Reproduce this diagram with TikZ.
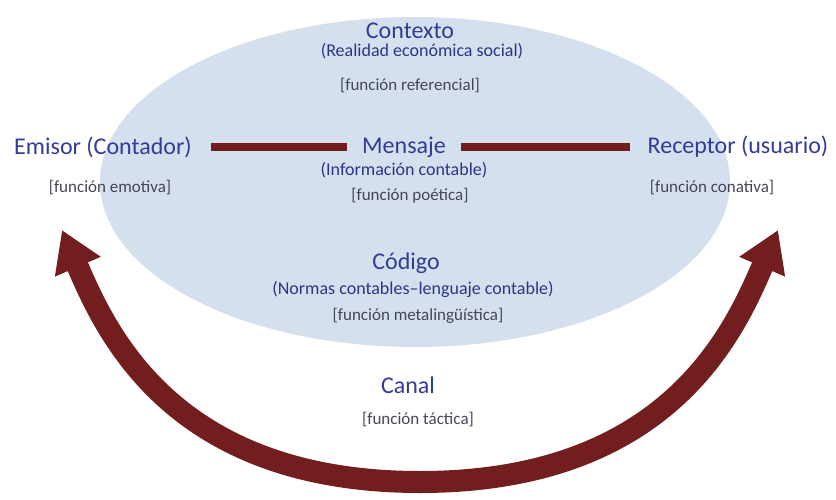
\documentclass[tikz,border=0pt]{standalone}
\usepackage{fontspec}
\setmainfont{Carlito}
\usetikzlibrary{arrows.meta}

\definecolor{ellfill}{RGB}{213,224,238}
\definecolor{titleblue}{RGB}{50,60,150}
\definecolor{subblue}{RGB}{45,52,135}
\definecolor{fungray}{RGB}{70,70,85}
\definecolor{arcred}{RGB}{115,30,30}

\begin{document}
\begin{tikzpicture}[x=1pt, y=-1pt,
    title/.style={text=titleblue, inner sep=0pt, font=\fontsize{24}{26}\selectfont},
    sub/.style={text=subblue, inner sep=0pt, font=\fontsize{18}{20}\selectfont},
    func/.style={text=fungray, inner sep=0pt, font=\fontsize{17}{19}\selectfont},
    bar/.style={arcred, line width=8.5pt},
    arc/.style={arcred, line width=22pt, {Triangle[length=40pt,width=47pt]}-{Triangle[length=40pt,width=47pt]}}]
    \useasboundingbox (0,0) rectangle (836,499);
    % Contexto
    \fill[ellfill] (415,182) ellipse [x radius=315pt, y radius=165pt];
    \node[title] (contexto) at (410,31) {Contexto};
    \node[sub] (realidad) at (422,51) {(Realidad económica social)};
    \node[func] (referencial) at (410,86) {[función referencial]};
    % Emisor y receptor
    \node[title] (emisor) at (103,147) {Emisor (Contador)};
    \node[func] (emotiva) at (110,188) {[función emotiva]};
    \node[title] (receptor) at (738,147) {Receptor (usuario)};
    \node[func] (conativa) at (712,188) {[función conativa]};
    % Mensaje
    \node[title] (mensaje) at (404,147) {Mensaje};
    \node[sub] (informacion) at (404,170) {(Información contable)};
    \node[func] (poetica) at (410,196) {[función poética]};
    \draw[bar] (emisor.east) ++(19,0) -- ([xshift=-15pt]mensaje.west);
    \draw[bar] ([xshift=15pt]mensaje.east) -- ([xshift=-18pt]receptor.west);
    % Codigo
    \node[title] (codigo) at (406,263) {Código};
    \node[sub] (normas) at (413,289) {(Normas contables–lenguaje contable)};
    \node[func] (metaling) at (418,316) {[función metalingüística]};
    % Canal
    \node[title] (canal) at (408,385) {Canal};
    \node[func] (tactica) at (418,420) {[función táctica]};
    \coordinate (tipL) at (62,230);
    \coordinate (bottom) at (420,482);
    \coordinate (tipR) at (778,230);
    \draw[arc] (tipL) .. controls (106,332) and (172,482) .. (bottom)
        .. controls (668,482) and (734,332) .. (tipR);
\end{tikzpicture}
\end{document}
